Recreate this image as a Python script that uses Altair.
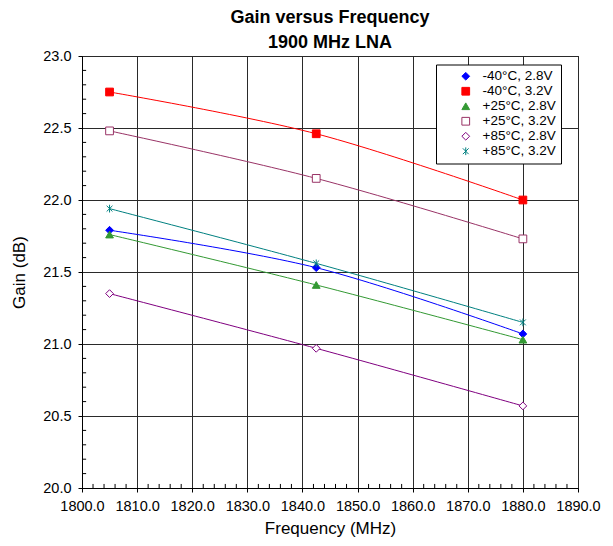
import altair as alt
import pandas as pd

freq = [1805.0, 1842.5, 1880.0]
series_names = ["-40°C, 2.8V", "-40°C, 3.2V", "+25°C, 2.8V",
                "+25°C, 3.2V", "+85°C, 2.8V", "+85°C, 3.2V"]
gain_m40_28 = [21.79, 21.53, 21.07]
gain_m40_32 = [22.75, 22.46, 22.00]
gain_p25_28 = [21.76, 21.41, 21.03]
gain_p25_32 = [22.48, 22.15, 21.73]
gain_p85_28 = [21.35, 20.97, 20.57]
gain_p85_32 = [21.94, 21.56, 21.15]

x_ticks = [1800, 1810, 1820, 1830, 1840, 1850, 1860, 1870, 1880, 1890]
y_ticks = [20.0, 20.5, 21.0, 21.5, 22.0, 22.5, 23.0]
x_minor = [v for v in range(1800, 1891, 2) if v % 10 != 0]
y_minor = [round(20 + i * 0.1, 1) for i in range(1, 30) if i % 5 != 0]

colors = ["#0000FF", "#FF0000", "#339933", "#993366", "#800080", "#008080"]
fills = ["#0000FF", "#FF0000", "#339933", "#FFFFFF", "#FFFFFF", "#008080"]
asterisk = "M0,-1L0,1M-0.75,-0.75L0.75,0.75M-0.75,0.75L0.75,-0.75"
shapes = ["diamond", "square", "triangle-up", "square", "diamond", asterisk]

all_vals = [gain_m40_28, gain_m40_32, gain_p25_28, gain_p25_32, gain_p85_28, gain_p85_32]
rows = []
for name, vals in zip(series_names, all_vals):
    for f, g in zip(freq, vals):
        rows.append({"series": name, "freq": f, "gain": g})
df = pd.DataFrame(rows)

xscale = alt.Scale(domain=[1800, 1890], nice=False, zero=False)
yscale = alt.Scale(domain=[20, 23], nice=False, zero=False)

x_axis = alt.Axis(values=x_ticks, format=".1f", title="Frequency (MHz)",
                  labelFontSize=14.5, titleFontSize=17, titleFontWeight="normal",
                  tickSize=4, labelPadding=7, titlePadding=8, labelOverlap=False,
                  labelFlush=False,
                  grid=True, gridColor="#2a2a2a", gridWidth=1,
                  domainColor="black", tickColor="black", labelColor="black",
                  titleColor="black")
y_axis = alt.Axis(values=y_ticks, format=".1f", title="Gain (dB)",
                  labelFontSize=14.5, titleFontSize=17, titleFontWeight="normal",
                  tickSize=4, labelPadding=7, titlePadding=14, labelOverlap=False,
                  labelFlush=False,
                  grid=True, gridColor="#2a2a2a", gridWidth=1,
                  domainColor="black", tickColor="black", labelColor="black",
                  titleColor="black")

lines = alt.Chart(df).mark_line(interpolate="catmull-rom", strokeWidth=1).encode(
    x=alt.X("freq:Q", scale=xscale, axis=x_axis),
    y=alt.Y("gain:Q", scale=yscale, axis=y_axis),
    color=alt.Color("series:N", scale=alt.Scale(domain=series_names, range=colors), legend=None),
    detail="series:N",
)

points = alt.Chart(df).mark_point(filled=True, size=60, strokeWidth=1, opacity=1).encode(
    x=alt.X("freq:Q", scale=xscale, axis=x_axis),
    y=alt.Y("gain:Q", scale=yscale, axis=y_axis),
    shape=alt.Shape("series:N", scale=alt.Scale(domain=series_names, range=shapes), title=None),
    stroke=alt.Stroke("series:N", scale=alt.Scale(domain=series_names, range=colors), title=None),
    fill=alt.Fill("series:N", scale=alt.Scale(domain=series_names, range=fills), title=None,
                  legend=alt.Legend(orient="none", legendX=354, legendY=8.5,
                                    padding=5, strokeColor="black", fillColor="white",
                                    labelFontSize=13.5, labelColor="black",
                                    symbolSize=60, symbolStrokeWidth=1, symbolOffset=18,
                                    labelOffset=10, rowPadding=0)),
)

xminor_df = pd.DataFrame({"v": x_minor})
yminor_df = pd.DataFrame({"v": y_minor})
xmin_rules = alt.Chart(xminor_df).mark_rule(color="black", strokeWidth=1).encode(
    x=alt.X("v:Q", scale=xscale, axis=x_axis), y=alt.datum(20.0), y2=alt.datum(20.028))
ymin_rules = alt.Chart(yminor_df).mark_rule(color="black", strokeWidth=1).encode(
    y=alt.Y("v:Q", scale=yscale, axis=y_axis), x=alt.datum(1800.0), x2=alt.datum(1800.75))

chart = alt.layer(lines, xmin_rules, ymin_rules, points).resolve_legend(
    color="independent").properties(
    width=496, height=432,
    autosize="none",
    padding={"left": 74, "top": 48, "right": 26, "bottom": 50},
    title=alt.Title(["Gain versus Frequency", "1900 MHz LNA"], fontSize=18, fontWeight="bold",
                    font="Liberation Sans", color="black", anchor="middle", frame="group",
                    offset=-4, lineHeight=25),
).configure(font="Liberation Sans").configure_view(stroke="black", strokeWidth=1)

chart.save("out.html", embed_options={"renderer": "svg", "actions": False})
